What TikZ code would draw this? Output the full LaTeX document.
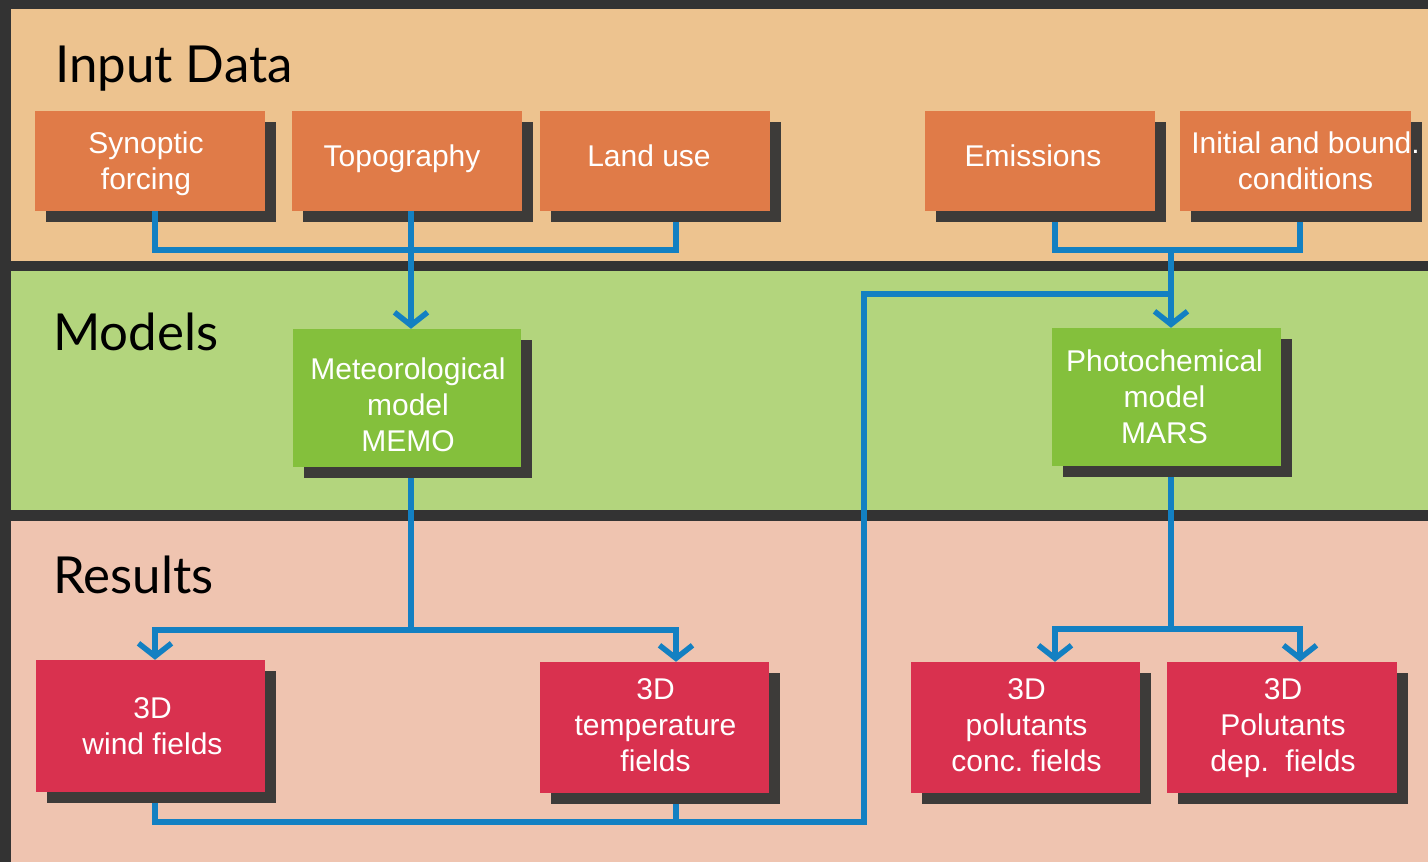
\documentclass[tikz,border=0pt]{standalone}
\usepackage{fontspec}
\setmainfont{Liberation Sans}
\newfontfamily\titlefont{Lato}
\usetikzlibrary{shadows,arrows.meta}
\definecolor{darkc}{HTML}{333333}
\definecolor{inputbg}{HTML}{EDC38F}
\definecolor{modelbg}{HTML}{B3D57D}
\definecolor{resultbg}{HTML}{EFC4B0}
\definecolor{orangec}{HTML}{E07B48}
\definecolor{greenc}{HTML}{84C03C}
\definecolor{redc}{HTML}{D9314F}
\definecolor{shadowc}{HTML}{3D3B39}
\definecolor{bluec}{HTML}{1380C2}
\frenchspacing
\begin{document}
\begin{tikzpicture}[x=1pt,y=-1pt,
  box/.style={rectangle, inner sep=0pt,
    general shadow={fill=shadowc, shadow xshift=11pt, shadow yshift=-11pt}},
  inbox/.style={box, fill=orangec, minimum width=230pt, minimum height=100pt},
  modbox/.style={box, fill=greenc, minimum width=229pt, minimum height=138pt},
  resbox/.style={box, fill=redc, minimum width=229pt, minimum height=131pt},
  boxtext/.style={inner sep=0pt, align=center, text=white,
    font=\fontsize{30}{36}\selectfont},
  title/.style={anchor=base west, inner sep=0pt, font=\titlefont\fontsize{51}{60}\selectfont},
  conn/.style={draw=bluec, line width=5.5pt},
  arr/.style={conn, -{Straight Barb[length=13pt, width=33pt]}}
]
\useasboundingbox (0,0) rectangle (1428,862);
% bands
\fill[darkc] (0,0) rectangle (1428,862);
\fill[inputbg] (11,9) rectangle (1428,261);
\fill[modelbg] (11,271) rectangle (1428,510);
\fill[resultbg] (11,521) rectangle (1428,862);
% titles
\node[title] (tin) at (55,82) {Input Data};
\node[title] (tmod) at (53,350) {Models};
\node[title] (tres) at (53,593) {Results};
% input boxes
\node[inbox] (syn) at (150,161) {};
\node[boxtext] (syn-t) at ([xshift=-4pt,yshift=-3pt]syn.center) {Synoptic\\forcing};
\node[inbox] (topo) at (407,161) {};
\node[boxtext] (topo-t) at ([xshift=-5pt,yshift=2pt]topo.center) {Topography};
\node[inbox] (land) at (655,161) {};
\node[boxtext] (land-t) at ([xshift=-6pt,yshift=5pt]land.center) {Land use};
\node[inbox] (emis) at (1040,161) {};
\node[boxtext] (emis-t) at ([xshift=-7pt,yshift=5pt]emis.center) {Emissions};
\node[inbox, minimum width=231pt] (init) at (1295.5,161) {};
\node[boxtext] (init-t) at ([xshift=10pt]init.center) {Initial and bound.\\conditions};
% model boxes
\node[modbox, minimum width=228pt] (memo) at (407,398) {};
\node[boxtext] (memo-t) at ([xshift=1pt,yshift=-7pt]memo.center) {Meteorological\\model\\MEMO};
\node[modbox] (mars) at (1166.5,397) {};
\node[boxtext] (mars-t) at ([xshift=-2pt]mars.center) {Photochemical\\model\\MARS};
% result boxes
\node[resbox, minimum height=132pt] (wind) at (150.5,726) {};
\node[boxtext] (wind-t) at ([xshift=2pt]wind.center) {3D\\wind fields};
\node[resbox] (temp) at (654.5,727.5) {};
\node[boxtext] (temp-t) at ([xshift=1pt,yshift=2pt]temp.center) {3D\\temperature\\fields};
\node[resbox] (conc) at (1025.5,727.5) {};
\node[boxtext] (conc-t) at ([xshift=1pt,yshift=2pt]conc.center) {3D\\polutants\\conc. fields};
\node[resbox, minimum width=230pt] (dep) at (1282,727.5) {};
\node[boxtext] (dep-t) at ([xshift=1pt,yshift=-1pt]dep.center) {3D\\Polutants\\dep.~~fields};
% connectors: input to models
\draw[conn] ([xshift=5pt]syn.south) -- ++(0,39) -| ([xshift=21pt,yshift=-11pt]land.south);
\draw[arr] ([xshift=4pt]topo.south) -- ([xshift=4pt]memo.north);
\draw[conn] ([xshift=15pt,yshift=-11pt]emis.south) -- ++(0,28) -| ([xshift=4.5pt,yshift=-11pt]init.south);
\coordinate (jE) at (1171,250);
\draw[arr] (jE) -- ([xshift=4.5pt]mars.north);
% models to results
\draw[conn] ([xshift=4pt,yshift=-11pt]memo.south) -- ++(0,152) coordinate (jM);
\draw[arr] (jM) -| ([xshift=4.5pt]wind.north);
\draw[arr] (jM) -| ([xshift=21.5pt]temp.north);
\draw[conn] ([xshift=4.5pt,yshift=-11pt]mars.south) -- ++(0,152) coordinate (jP);
\draw[arr] (jP) -| ([xshift=29.5pt]conc.north);
\draw[arr] (jP) -| ([xshift=18pt]dep.north);
% feedback
\coordinate (fbc) at (864,822);
\coordinate (fbt) at (1171,294);
\draw[conn] ([xshift=4.5pt,yshift=-11pt]wind.south) |- (fbc) |- (fbt);
\draw[conn] ([xshift=21.5pt,yshift=-11pt]temp.south) -- ++(0,18);
\end{tikzpicture}
\end{document}
